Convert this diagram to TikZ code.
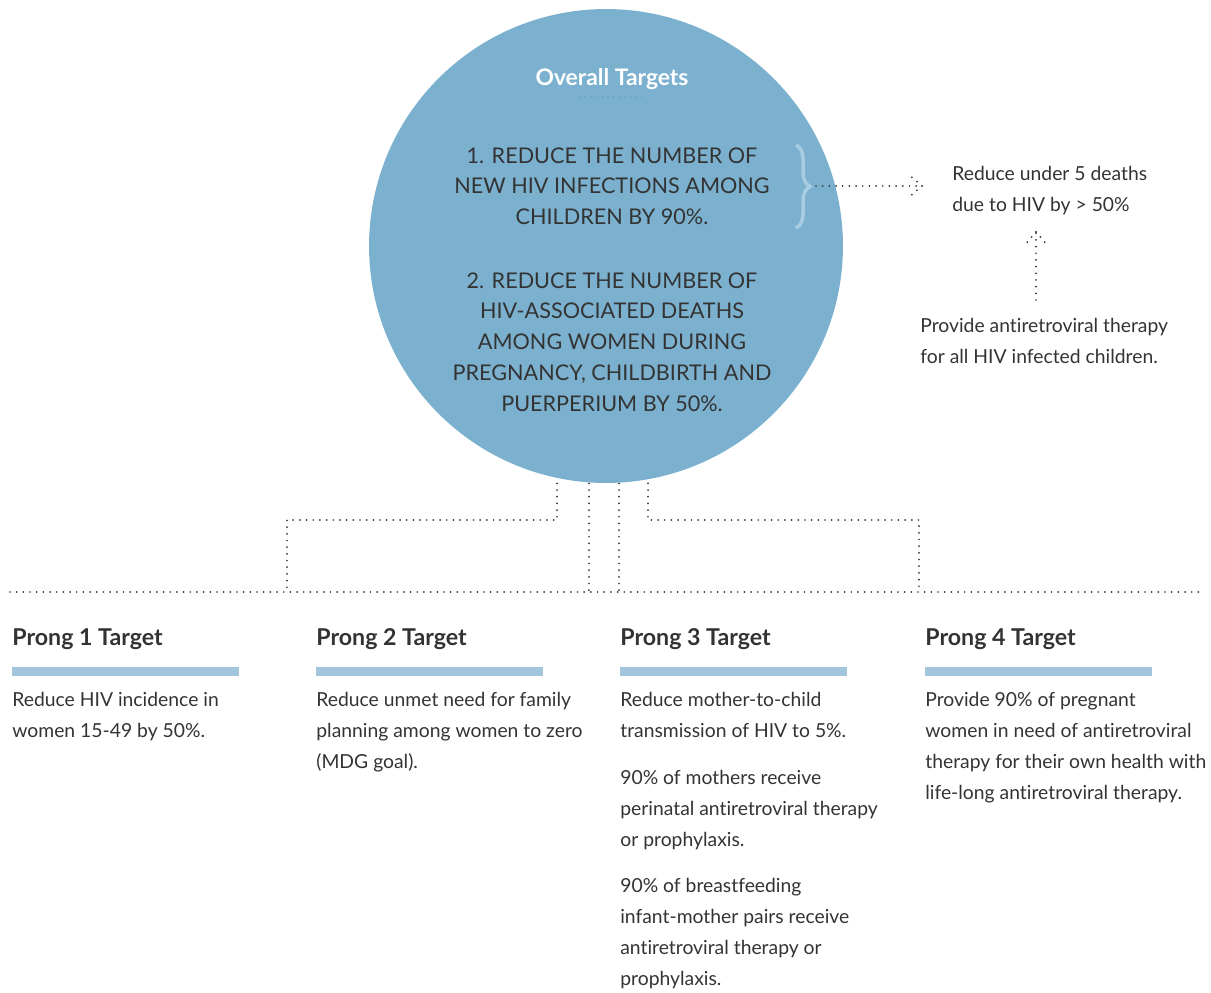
\documentclass[tikz,border=0pt]{standalone}
\usepackage{fontspec}
\setmainfont{Lato}[Ligatures=NoCommon]
\usetikzlibrary{decorations.pathreplacing}

\definecolor{circleblue}{HTML}{7BB1CF}
\definecolor{barblue}{HTML}{A3C6DD}
\definecolor{ink}{HTML}{333333}
\definecolor{bracecol}{HTML}{A8CCE1}
\definecolor{titledots}{HTML}{5F9DC4}

\tikzset{
  dotline/.style={ink, line width=1.1pt, line cap=round, dash pattern=on 0pt off 3.8pt},
  goaltext/.style={align=center, anchor=north, inner sep=0pt, text=ink, font=\fontsize{12.3}{17.6}\selectfont},
  bodytext/.style={align=left, anchor=north west, inner sep=0pt, text=ink, font=\fontsize{11}{17.6}\selectfont},
  prongtitle/.style={anchor=base west, inner sep=0pt, text=ink, font=\bfseries\fontsize{13.2}{15}\selectfont},
}

\begin{document}
\begin{tikzpicture}[x=0.02cm, y=-0.02cm]
    \useasboundingbox (0,0) rectangle (1211,993);

        % Lines from the circle down to the prongs
        \coordinate (c1) at (557,470);
        \coordinate (c2) at (589,470);
        \coordinate (c3) at (619,470);
        \coordinate (c4) at (648,470);
        \coordinate (k1) at (287,520);
        \coordinate (k4) at (919,520);
        \coordinate (r1) at (287,592);
        \coordinate (r2) at (589,592);
        \coordinate (r3) at (619,592);
        \coordinate (r4) at (919,592);
        \coordinate (rl) at (10,592);
        \coordinate (rr) at (1200,592);
        \draw[dotline] (c1) |- (k1) -- (r1);
        \draw[dotline] (c2) -- (r2);
        \draw[dotline] (c3) -- (r3);
        \draw[dotline] (c4) |- (k4) -- (r4);
        \draw[dotline] (rl) -- (rr);

        % The big circle
        \node[circle, fill=circleblue, minimum size=9.48cm, inner sep=0pt] (goals) at (606,246) {};
        \node[anchor=base, text=white, inner sep=0pt, font=\bfseries\fontsize{13}{15}\selectfont] (overall) at (612,86) {Overall Targets};
        \draw[titledots, line width=0.9pt, line cap=round, dash pattern=on 0pt off 3.2pt] (580,97) -- (645,97);

        % Overall targets
        \node[goaltext] (goal1) at (612,147) {1. REDUCE THE NUMBER OF\\NEW HIV INFECTIONS AMONG\\CHILDREN BY 90\%.};
        \node[goaltext] (goal2) at (612,272) {2. REDUCE THE NUMBER OF\\HIV-ASSOCIATED DEATHS\\AMONG WOMEN DURING\\PREGNANCY, CHILDBIRTH AND\\PUERPERIUM BY 50\%.};
        \draw[bracecol, line width=2pt, decorate, decoration={brace, amplitude=8pt}] (796,145) -- (796,228);

        % Side targets
        \node[bodytext] (deaths) at (952,166) {Reduce under 5 deaths\\due to HIV by > 50\%};
        \node[bodytext] (art) at (920,318) {Provide antiretroviral therapy\\for all HIV infected children.};
        \coordinate (bracetip) at (816,186);
        \coordinate (tipr) at (922,186);
        \draw[dotline] (bracetip) -- (tipr);
        \draw[dotline] (tipr) -- ++(-14,-12);
        \draw[dotline] (tipr) -- ++(-14,12);
        \coordinate (artup) at (1036,300);
        \coordinate (tipu) at (1036,232);
        \draw[dotline] (artup) -- (tipu);
        \draw[dotline] (tipu) -- ++(-12,14);
        \draw[dotline] (tipu) -- ++(12,14);

        % Prongs
        \node[prongtitle] (prong1) at (12,645) {Prong 1 Target};
        \node[prongtitle] (prong2) at (316,645) {Prong 2 Target};
        \node[prongtitle] (prong3) at (620,645) {Prong 3 Target};
        \node[prongtitle] (prong4) at (925,645) {Prong 4 Target};
        \foreach \x in {12,316,620,925}
            \fill[barblue] (\x,667) rectangle ++(227,9);

        \node[bodytext] (text1) at (12,692) {Reduce HIV incidence in\\women 15-49 by 50\%.};
        \node[bodytext] (text2) at (316,692) {Reduce unmet need for family\\planning among women to zero\\(MDG goal).};
        \node[bodytext] (text3) at (620,692) {Reduce mother-to-child\\transmission of HIV to 5\%.\\[9pt]90\% of mothers receive\\perinatal antiretroviral therapy\\or prophylaxis.\\[9pt]90\% of breastfeeding\\infant-mother pairs receive\\antiretroviral therapy or\\prophylaxis.};
        \node[bodytext] (text4) at (925,692) {Provide 90\% of pregnant\\women in need of antiretroviral\\therapy for their own health with\\life-long antiretroviral therapy.};

\end{tikzpicture}
\end{document}
